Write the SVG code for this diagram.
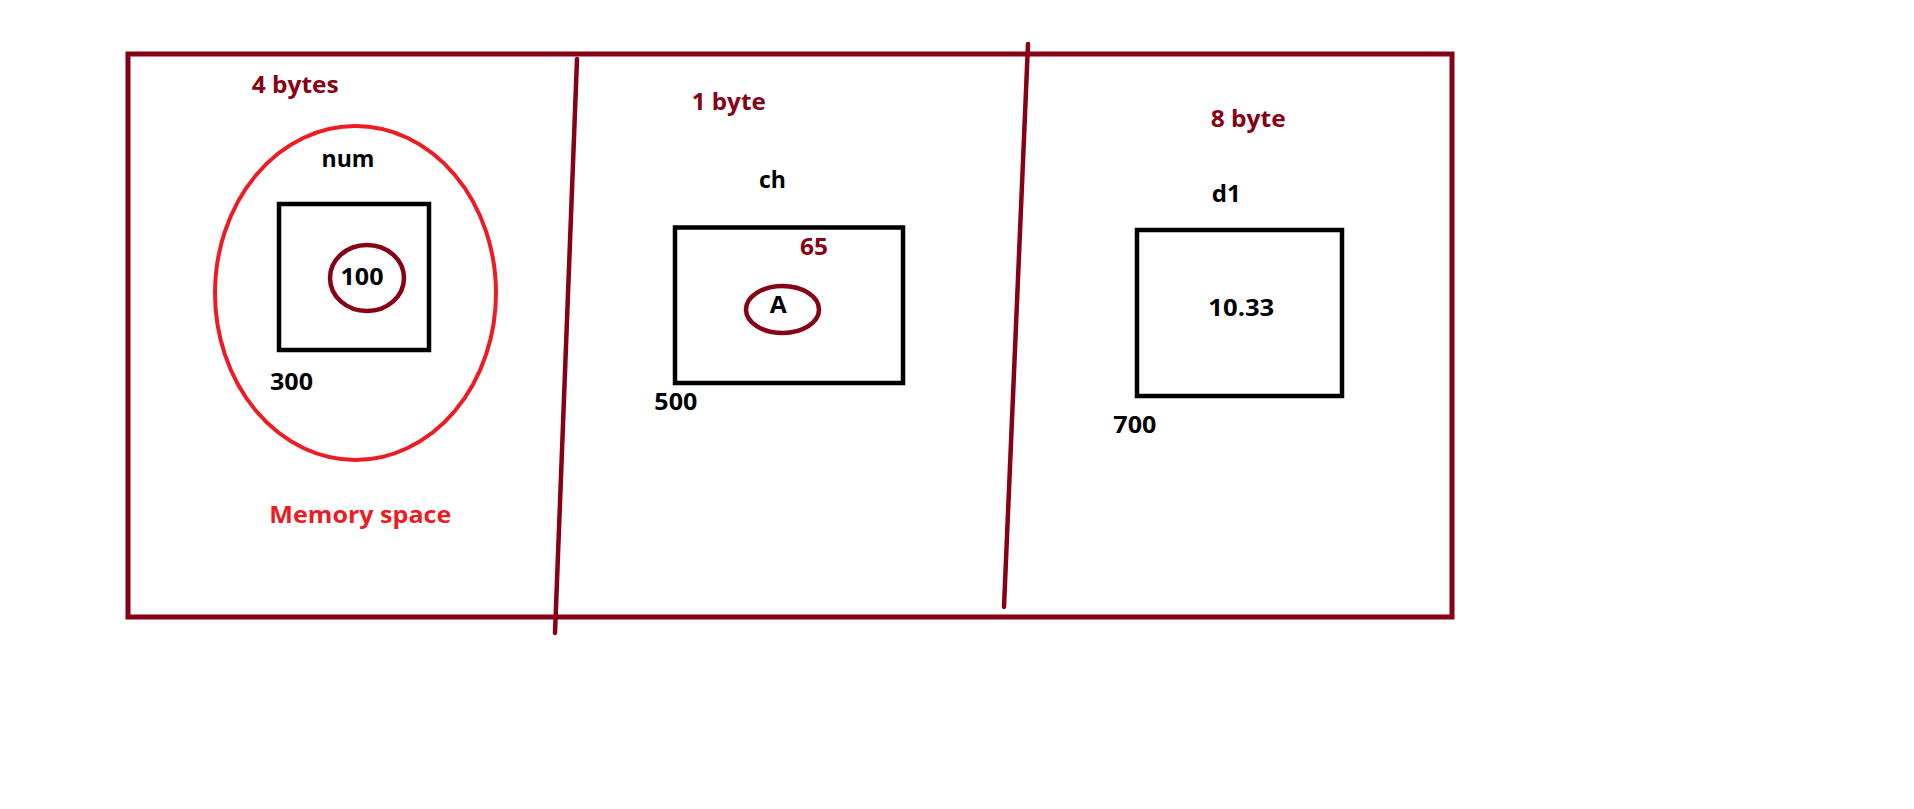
<svg xmlns="http://www.w3.org/2000/svg" width="1914" height="809" viewBox="0 0 1914 809">
<style>
.t{font-family:"Open Sans","Liberation Sans",sans-serif;font-weight:bold;font-size:23px}
.k{fill:#000}
.d{fill:#880015}
.r{fill:#ED1C24}
.box{fill:none;stroke:#000;stroke-width:4.5}
.dr{fill:none;stroke:#880015;stroke-width:4.5;stroke-linecap:round}
</style>
<rect width="1914" height="809" fill="#fff"/>
<g id="frame">
<rect x="128" y="54" width="1324" height="563" fill="none" stroke="#880015" stroke-width="5"/>
</g>
<g id="connectors">
<line x1="577" y1="59" x2="555" y2="633" class="dr"/>
<line x1="1028" y1="44" x2="1004" y2="607" class="dr"/>
</g>
<g id="int-node">
<text x="251.7" y="93" class="t d" textLength="87" lengthAdjust="spacingAndGlyphs">4 bytes</text>
<ellipse cx="355.5" cy="293" rx="140.5" ry="167" fill="none" stroke="#ED1C24" stroke-width="4"/>
<text x="321.5" y="166.5" class="t k" textLength="53" lengthAdjust="spacingAndGlyphs">num</text>
<rect x="279" y="204" width="150" height="146" class="box"/>
<ellipse cx="367" cy="278" rx="37" ry="33" class="dr"/>
<text x="340.5" y="284.5" class="t k" textLength="43" lengthAdjust="spacingAndGlyphs">100</text>
<text x="270" y="390" class="t k" textLength="43" lengthAdjust="spacingAndGlyphs">300</text>
<text x="269.3" y="523" class="t r" textLength="182" lengthAdjust="spacingAndGlyphs">Memory space</text>
</g>
<g id="char-node">
<text x="691.7" y="110" class="t d" textLength="74" lengthAdjust="spacingAndGlyphs">1 byte</text>
<text x="759" y="188" class="t k" textLength="27" lengthAdjust="spacingAndGlyphs">ch</text>
<rect x="675" y="227.5" width="228" height="155.5" class="box"/>
<text x="800" y="255" class="t d" textLength="28" lengthAdjust="spacingAndGlyphs">65</text>
<ellipse cx="782.5" cy="309.5" rx="36.5" ry="23.5" class="dr"/>
<text x="769.8" y="312.5" class="t k" textLength="17" lengthAdjust="spacingAndGlyphs">A</text>
<text x="654.3" y="410" class="t k" textLength="43" lengthAdjust="spacingAndGlyphs">500</text>
</g>
<g id="double-node">
<text x="1210.7" y="127" class="t d" textLength="75" lengthAdjust="spacingAndGlyphs">8 byte</text>
<text x="1211.7" y="202" class="t k" textLength="29" lengthAdjust="spacingAndGlyphs">d1</text>
<rect x="1137" y="230" width="205" height="166" class="box"/>
<text x="1208.3" y="316" class="t k" textLength="66" lengthAdjust="spacingAndGlyphs">10.33</text>
<text x="1113.3" y="433" class="t k" textLength="43" lengthAdjust="spacingAndGlyphs">700</text>
</g>
</svg>
